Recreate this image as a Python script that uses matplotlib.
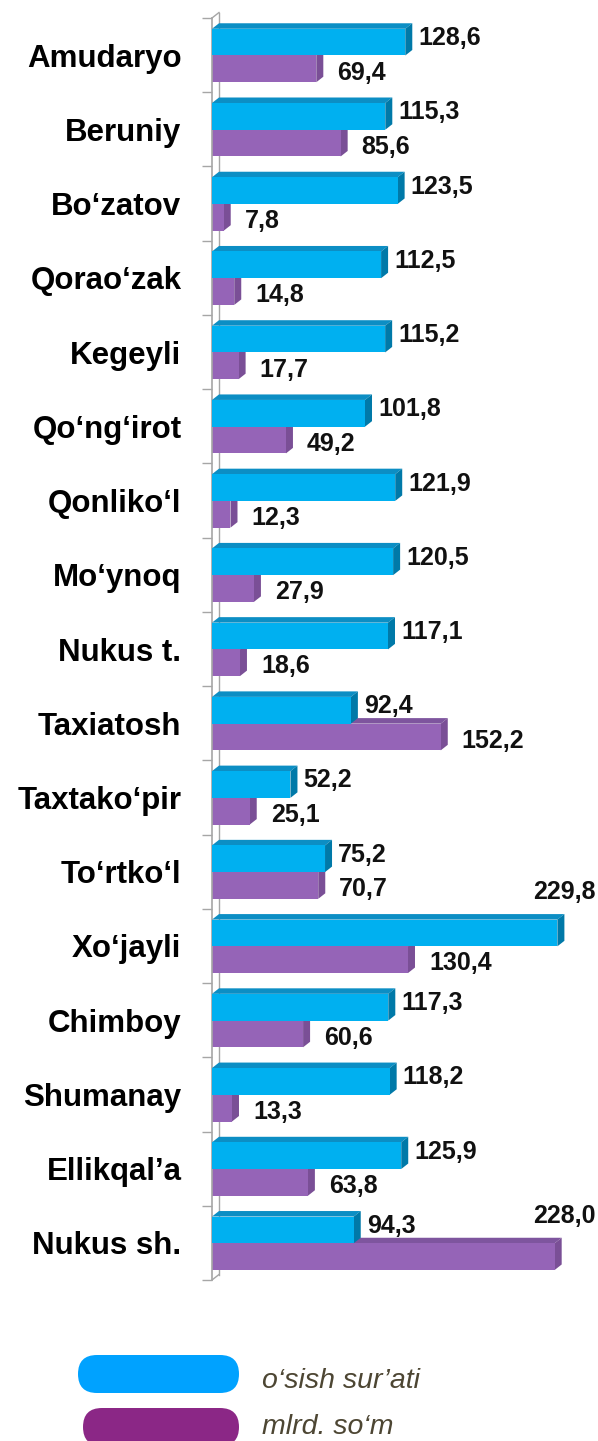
import matplotlib
matplotlib.use('Agg')
import matplotlib.pyplot as plt
from matplotlib.patches import Polygon, FancyBboxPatch
import numpy as np

plt.rcParams['font.family'] = ['Liberation Sans', 'DejaVu Sans']

#%% data
categories = ['Amudaryo', 'Beruniy', 'Bo‘zatov', 'Qorao‘zak', 'Kegeyli', 'Qo‘ng‘irot',
              'Qonliko‘l', 'Mo‘ynoq', 'Nukus t.', 'Taxiatosh', 'Taxtako‘pir', 'To‘rtko‘l',
              'Xo‘jayli', 'Chimboy', 'Shumanay', 'Ellikqal’a', 'Nukus sh.']
growth = [128.6, 115.3, 123.5, 112.5, 115.2, 101.8, 121.9, 120.5, 117.1,
          92.4, 52.2, 75.2, 229.8, 117.3, 118.2, 125.9, 94.3]
amount = [69.4, 85.6, 7.8, 14.8, 17.7, 49.2, 12.3, 27.9, 18.6,
          152.2, 25.1, 70.7, 130.4, 60.6, 13.3, 63.8, 228.0]
legend_labels = ['o‘sish sur’ati', 'mlrd. so‘m']

#%% geometry (pixels of the 598x1441 picture)
W, H = 598, 1441
x0_px, top_px, bot_px = 212, 18, 1280
px_per_unit = 1.503
xmax = (W - x0_px) / px_per_unit
n = len(categories)
py_per_cat = (bot_px - top_px) / n

dx = 7 / px_per_unit      # depth of 3d bars
dy = 5.5 / py_per_cat
h = 0.36

blue, blue_top, blue_side = '#00B0F0', '#0C8EC4', '#0079A8'
purp, purp_top, purp_side = '#9564B7', '#7E559E', '#7A4F96'

fig = plt.figure(figsize=(W / 100, H / 100), dpi=100)
ax = fig.add_axes([x0_px / W, 1 - bot_px / H, (W - x0_px) / W, (bot_px - top_px) / H])
ax.set_xlim(0, xmax)
ax.set_ylim(n - 0.5, -0.5)

y = np.arange(n)
yb0 = y - 0.355          # blue bar top edge
yp0 = y + 0.005          # purple bar top edge


def bars3d(vals, ytop, c_front, c_top, c_side, z):
    ax.barh(ytop + h / 2, vals, height=h, left=0, color=c_front, zorder=z + 0.2)
    for v, yt in zip(vals, ytop):
        yb = yt + h
        top = [(0, yt), (v, yt), (v + dx, yt - dy), (dx, yt - dy)]
        side = [(v, yt), (v + dx, yt - dy), (v + dx, yb - dy), (v, yb)]
        ax.add_patch(Polygon(top, closed=True, fc=c_top, ec='none', zorder=z))
        ax.add_patch(Polygon(side, closed=True, fc=c_side, ec='none', zorder=z + 0.1))


bars3d(amount, yp0, purp, purp_top, purp_side, 2)
bars3d(growth, yb0, blue, blue_top, blue_side, 3)

# frame of the 3d wall
gray = '#a6a6a6'
ax.plot([dx, dx], [-0.5 - dy, n - 0.5 - dy], color=gray, lw=1, zorder=1, clip_on=False)
ax.plot([0, dx], [-0.5, -0.5 - dy], color=gray, lw=1, zorder=1, clip_on=False)
ax.plot([0, dx], [n - 0.5, n - 0.5 - dy], color=gray, lw=1, zorder=1, clip_on=False)

for s in ['top', 'right', 'bottom']:
    ax.spines[s].set_visible(False)
ax.spines['left'].set_color(gray)
ax.spines['left'].set_linewidth(1.2)
ax.set_xticks([])
ax.set_yticks(y)
ax.set_yticklabels(categories, fontsize=22.5, fontweight='bold')
ax.set_yticks(np.arange(-0.5, n, 1), minor=True)
ax.tick_params(axis='y', which='major', length=0, pad=22)
ax.tick_params(axis='y', which='minor', length=7, width=1, color=gray)

#%% value labels
lab_w = 62 / px_per_unit
for i in range(n):
    for v, yt, off, base in [(growth[i], yb0[i], 13, -0.135), (amount[i], yp0[i], 21, 0.33)]:
        s = f'{v:.1f}'.replace('.', ',')
        xl = v + off / px_per_unit
        if xl + lab_w > xmax:
            ax.text(xmax - 2 / px_per_unit, yt - dy - 0.2, s, ha='right', va='baseline',
                    fontsize=18, fontweight='bold', color='#111111', zorder=5)
        else:
            ax.text(xl, y[i] + base, s, ha='left', va='baseline',
                    fontsize=18, fontweight='bold', color='#111111', zorder=5)

#%% legend drawn in picture pixels
lg = fig.add_axes([0, 0, 1, 1])
lg.set_xlim(0, W)
lg.set_ylim(H, 0)
lg.axis('off')
lg.add_patch(FancyBboxPatch((78, 1355), 161, 38, boxstyle='round,pad=0,rounding_size=19',
                            fc='#00A2FF', ec='none'))
lg.add_patch(FancyBboxPatch((83, 1408), 156, 38, boxstyle='round,pad=0,rounding_size=19',
                            fc='#8B2786', ec='none'))
lg.text(262, 1388, legend_labels[0], fontsize=20.5, style='italic', color='#4D4633', va='baseline')
lg.text(262, 1434, legend_labels[1], fontsize=20.5, style='italic', color='#4D4633', va='baseline')

fig.savefig('out.png', dpi=100)
